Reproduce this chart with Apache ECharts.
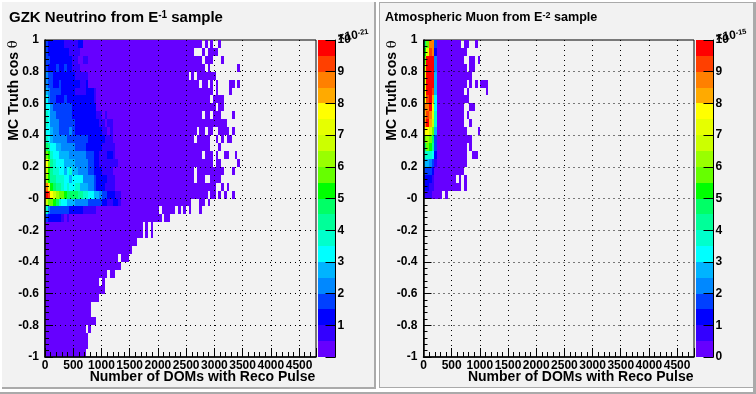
<!DOCTYPE html>
<html>
<head>
<meta charset="utf-8">
<title>GZK Neutrino / Atmospheric Muon</title>
<script src="https://cdn.jsdelivr.net/npm/echarts@6/dist/echarts.min.js"></script>
<style>
  html, body { margin: 0; padding: 0; background: #ffffff; }
  #main { width: 756px; height: 394px; }
</style>
</head>
<body>
<div id="main"></div>
<script>
// colour bins of the palette, bottom to top (20 bins over 0..10)
var levelColors = [
  "#6600ff", "#3300ff", "#0000ff", "#0040ff", "#0088ff", "#00b4ff", "#00ffff", "#00ffcc",
  "#00ff99", "#00ff66", "#00ff00", "#66ff00", "#99ff00", "#ccff00", "#e6ff00", "#ffff00",
  "#ffaa00", "#ff8000", "#ff4000", "#ff0000"
];

var xTickStep = 500;
var xMax = 4800;
var binWidth = 48;   // DOMs per column
var binHeight = 0.05; // cos theta per row
var colorBarStep = 0.5;

// hot part of each row, top row first. one char per column, base 20 palette bin
var nuHot = [
  "32222221111122",
  "3222222221111",
  "3322222222110011",
  "3222322322111",
  "4332222222211111",
  "4332232222222112",
  "5433332222211112221",
  "6433222322222222221",
  "6643333333222222222",
  "76443333332222222221101",
  "7644433333322222222211011",
  "6654433334322222222221101",
  "7654444433333333222222111",
  "98665544444333322222211111",
  "ba766555544444433322111221",
  "fb8766655554444433221111111",
  "da87766567554444332221111",
  "ca887776656666444432222111",
  "hea98876766775554432221111",
  "jifdcbba99998877665543322211",
  "dbba976655544444333332211221",
  "7433333332222211111",
  "322222101"
];

// filled column ranges [from, to) of each row, top row first
var nuSpans = [
  [[0, 58], [59, 60], [61, 62], [64, 65]],
  [[0, 55], [58, 59], [60, 64]],
  [[0, 58], [59, 62], [65, 66]],
  [[0, 59], [60, 61], [71, 72]],
  [[0, 53], [54, 55], [56, 63]],
  [[0, 57], [58, 60], [61, 62], [63, 64], [68, 70], [71, 72]],
  [[0, 62], [63, 64], [68, 69]],
  [[0, 61], [62, 66]],
  [[0, 63], [64, 66]],
  [[0, 58], [59, 61], [62, 65], [69, 70]],
  [[0, 67]],
  [[0, 56], [57, 59], [60, 62], [64, 68], [69, 70]],
  [[0, 55], [56, 61], [63, 64], [65, 66], [67, 69]],
  [[0, 61], [64, 65]],
  [[0, 58], [59, 62], [63, 64], [66, 68], [70, 71]],
  [[0, 62], [63, 65], [71, 72]],
  [[0, 55], [56, 66], [69, 70]],
  [[0, 55], [56, 59], [61, 65]],
  [[0, 63], [65, 66], [67, 68]],
  [[0, 60], [61, 63], [64, 65], [66, 67], [69, 70]],
  [[0, 54], [57, 59], [60, 61]],
  [[0, 42], [43, 48], [49, 50], [51, 52], [53, 54], [57, 58]],
  [[0, 43], [44, 46]],
  [[0, 36], [37, 38], [39, 40]],
  [[0, 36], [37, 38], [39, 40]],
  [[0, 34]],
  [[0, 32]],
  [[0, 27], [28, 31]],
  [[0, 28]],
  [[0, 23], [24, 26]],
  [[0, 20], [21, 22]],
  [[0, 22]],
  [[0, 20]],
  [[0, 17]],
  [[0, 17]],
  [[0, 19]],
  [[0, 15], [16, 17]],
  [[0, 16]],
  [[0, 16]],
  [[0, 15]]
];

var muHot = [
  "9bhh3", "aeih2", "bjjj4", "djjj4", "ejjj5", "ejjj5", "fjji5", "fijg6", "hhjf6", "gihe7",
  "hjgd7", "ffdb5", "bcb93", "9ba83", "77762", "55431", "3332", "2221", "2211", "111"
];

var muSpans = [
  [[0, 14], [15, 17], [19, 20]],
  [[0, 16]],
  [[0, 15], [17, 19], [20, 21]],
  [[0, 16], [17, 19]],
  [[0, 18]],
  [[0, 16], [17, 18], [19, 20], [21, 24]],
  [[0, 15], [16, 17], [23, 24]],
  [[0, 17]],
  [[0, 15], [17, 19]],
  [[0, 15], [16, 17]],
  [[0, 15], [17, 18]],
  [[0, 16], [20, 21]],
  [[0, 18]],
  [[0, 16], [17, 18]],
  [[0, 16], [18, 20]],
  [[0, 16]],
  [[0, 15]],
  [[0, 12], [13, 14], [15, 16]],
  [[0, 14], [15, 16]],
  [[0, 7], [8, 9]]
];

// [x lower edge, y lower edge, palette bin]
function buildCells(hot, spans) {
  var cells = [];
  spans.forEach(function (row, j) {
    var prefix = hot[j] || "";
    row.forEach(function (span) {
      for (var c = span[0]; c < span[1]; c++) {
        var lv = c < prefix.length ? parseInt(prefix.charAt(c), 20) : 0;
        cells.push([c * binWidth, 1 - (j + 1) * binHeight, lv]);
      }
    });
  });
  return cells;
}

var font = "'Liberation Sans', Arial, sans-serif";

function renderCell(params, api) {
  var a = api.coord([api.value(0), api.value(1) + binHeight]);
  var b = api.coord([api.value(0) + binWidth, api.value(1)]);
  var x0 = Math.round(a[0]), y0 = Math.round(a[1]);
  return {
    type: "rect",
    shape: { x: x0, y: y0, width: Math.round(b[0]) - x0, height: Math.round(b[1]) - y0 },
    style: { fill: levelColors[api.value(2)] }
  };
}

function renderBarCell(params, api) {
  var a = api.coord([0, api.value(0) + colorBarStep]);
  var b = api.coord([1, api.value(0)]);
  var y0 = Math.round(a[1]);
  return {
    type: "rect",
    shape: { x: a[0], y: y0, width: b[0] - a[0], height: Math.round(b[1]) - y0 },
    style: { fill: levelColors[api.value(1)] }
  };
}

var barData = levelColors.map(function (c, i) { return [i * colorBarStep, i]; });

function padRect(x, y, w, h, color) {
  return { type: "rect", z: -10, silent: true, shape: { x: x, y: y, width: w, height: h }, style: { fill: color } };
}

// the x10 exponent sits on top of the "10" label of the colour bar, slightly tilted
function expText(x, y, exp) {
  return {
    type: "text", z: 50, silent: true, x: x, y: y, rotation: 0.14,
    style: {
      text: "×10{s|" + exp + "}",
      fontFamily: font, fontWeight: "bold", fontSize: 12, fill: "#000",
      rich: { s: { fontFamily: font, fontWeight: "bold", fontSize: 7.5, verticalAlign: "top", lineHeight: 9, fill: "#000" } }
    }
  };
}

function mainX(i) {
  return {
    type: "value", gridIndex: i, min: 0, max: xMax, interval: xTickStep, z: 5,
    name: "Number of DOMs with Reco Pulse",
    nameLocation: "middle", nameGap: 13, nameMoveOverlap: false,
    // left padding pushes the centred name over to the right end of the axis
    nameTextStyle: { fontFamily: font, fontWeight: "bold", fontSize: 14, color: "#000", verticalAlign: "top", padding: [0, 0, 0, 44] },
    axisLine: { show: true, onZero: false, lineStyle: { color: "#000", width: 1.5 } },
    axisTick: { show: true, inside: true, length: 9, lineStyle: { color: "#000" } },
    minorTick: { show: true, splitNumber: 5, length: 5, lineStyle: { color: "#000" } },
    axisLabel: {
      show: true, margin: 3, showMaxLabel: false, hideOverlap: false, fontFamily: font, fontWeight: "bold", fontSize: 12, color: "#000",
      formatter: function (v) { return String(v); }
    },
    splitLine: { show: true, showMinLine: false, showMaxLine: false, lineStyle: { color: "#000", type: [1, 4], width: 1 } }
  };
}

function mainY(i) {
  return {
    type: "value", gridIndex: i, min: -1, max: 1, interval: 0.2, z: 5,
    name: "{n|MC Truth cos }{t|θ}",
    nameLocation: "middle", nameRotate: 90, nameGap: 24, nameMoveOverlap: false,
    nameTextStyle: {
      verticalAlign: "bottom", padding: [0, 0, 0, 216],
      rich: {
        n: { fontFamily: font, fontWeight: "bold", fontSize: 14, color: "#000" },
        t: { fontFamily: "'DejaVu Serif', serif", fontSize: 13, color: "#000" }
      }
    },
    axisLine: { show: true, onZero: false, lineStyle: { color: "#000", width: 1.5 } },
    axisTick: { show: true, inside: true, length: 8, lineStyle: { color: "#000" } },
    minorTick: { show: true, splitNumber: 5, length: 4, lineStyle: { color: "#000" } },
    axisLabel: {
      show: true, margin: 6, fontFamily: font, fontWeight: "bold", fontSize: 12, color: "#000",
      formatter: function (v) {
        if (Math.abs(v) < 1e-9) return "-0"; // ROOT prints zero like this here
        return String(+v.toFixed(1));
      }
    },
    splitLine: { show: true, showMinLine: false, showMaxLine: false, lineStyle: { color: "#000", type: [1, 4], width: 1 } }
  };
}

function barX(i) {
  return { type: "value", gridIndex: i, min: 0, max: 1, show: false };
}

function barY(i, showZero) {
  return {
    type: "value", gridIndex: i, min: 0, max: 10, interval: 1, position: "right", z: 5,
    axisLine: { show: true, onZero: false, lineStyle: { color: "#000", width: 1 } },
    axisTick: { show: true, inside: true, length: 10, lineStyle: { color: "#000" } },
    splitLine: { show: false },
    axisLabel: {
      show: true, margin: 2, fontFamily: font, fontWeight: "bold", fontSize: 12, color: "#000",
      formatter: function (v) { return v === 0 && !showZero ? "" : String(v); }
    }
  };
}

var option = {
  animation: false,
  backgroundColor: "#ffffff",
  title: [
    {
      left: 9, top: 10, padding: 0,
      text: "GZK Neutrino from E{s|-1} sample",
      textStyle: {
        fontFamily: font, fontWeight: "bold", fontSize: 15, color: "#000",
        rich: { s: { fontFamily: font, fontWeight: "bold", fontSize: 10, verticalAlign: "top", lineHeight: 14, color: "#000" } }
      }
    },
    {
      left: 385, top: 11, padding: 0,
      text: "Atmospheric Muon from E{s|-2} sample",
      textStyle: {
        fontFamily: font, fontWeight: "bold", fontSize: 12.6, color: "#000",
        rich: { s: { fontFamily: font, fontWeight: "bold", fontSize: 9, verticalAlign: "top", lineHeight: 12, color: "#000" } }
      }
    }
  ],
  grid: [
    { left: 45, top: 40, width: 271, height: 317, show: true, borderColor: "#000", borderWidth: 1, backgroundColor: "transparent", outerBoundsMode: "none" },
    { left: 318, top: 40, width: 17.5, height: 317, outerBoundsMode: "none" },
    { left: 423.5, top: 40, width: 270.5, height: 317, show: true, borderColor: "#000", borderWidth: 1, backgroundColor: "transparent", outerBoundsMode: "none" },
    { left: 696, top: 40, width: 17.5, height: 317, outerBoundsMode: "none" }
  ],
  xAxis: [mainX(0), barX(1), mainX(2), barX(3)],
  yAxis: [mainY(0), barY(1, false), mainY(2), barY(3, true)],
  series: [
    { type: "custom", xAxisIndex: 0, yAxisIndex: 0, z: 1, clip: true, renderItem: renderCell, encode: { x: 0, y: 1 }, data: buildCells(nuHot, nuSpans) },
    { type: "custom", xAxisIndex: 1, yAxisIndex: 1, z: 1, renderItem: renderBarCell, encode: { y: 0 }, data: barData },
    { type: "custom", xAxisIndex: 2, yAxisIndex: 2, z: 1, clip: true, renderItem: renderCell, encode: { x: 0, y: 1 }, data: buildCells(muHot, muSpans) },
    { type: "custom", xAxisIndex: 3, yAxisIndex: 3, z: 1, renderItem: renderBarCell, encode: { y: 0 }, data: barData }
  ],
  graphic: {
    elements: [
      // pads, white top/left, grey bottom/right like the ROOT bevel
      padRect(0, 0, 756, 394, "#ffffff"),
      padRect(0, 392, 756, 2, "#aaaaaa"),
      padRect(2, 2, 374, 387, "#aaaaaa"),
      padRect(2, 2, 372, 385, "#f2f2f2"),
      padRect(753, 2, 3, 392, "#aaaaaa"),
      padRect(379, 2, 374, 386, "#aaaaaa"),
      padRect(380, 3, 373, 384, "#f2f2f2"),
      expText(337, 32, "-21"),
      expText(715, 32, "-15")
    ]
  }
};

var chart = echarts.init(document.getElementById("main"), null, { renderer: "canvas" });
chart.setOption(option);
</script>
</body>
</html>
